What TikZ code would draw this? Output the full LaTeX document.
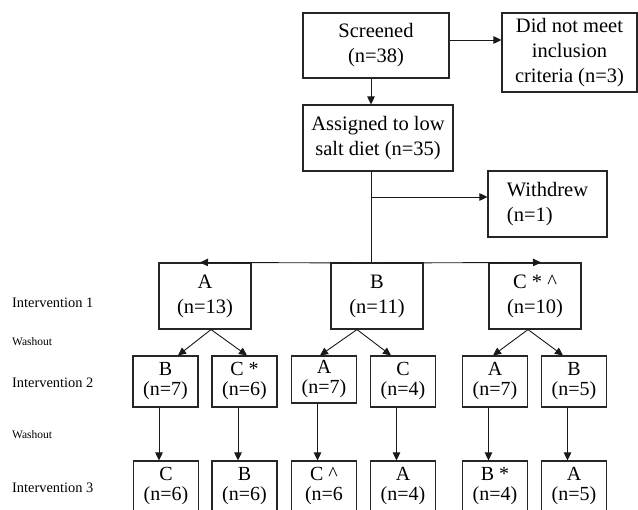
\documentclass[tikz,border=0pt]{standalone}
\usepackage{fontspec}
\setmainfont{Liberation Serif}
\usetikzlibrary{arrows.meta}
\begin{document}
\begin{tikzpicture}[x=1pt,y=-1pt,
  bx/.style={draw=black!85, line width=1.1pt, inner sep=0pt, align=center},
  big/.style={font=\fontsize{20.5}{25}\selectfont},
  sml/.style={font=\fontsize{20}{20}\selectfont, minimum width=65pt, minimum height=51pt},
  lab/.style={anchor=west, inner sep=0pt, font=\fontsize{14.4}{16}\selectfont},
  wlab/.style={anchor=west, inner sep=0pt, font=\fontsize{11.5}{13}\selectfont},
  arr/.style={draw=black!90, line width=0.9pt, -{Triangle[length=8pt,width=7.5pt]}},
  ln/.style={draw=black!90, line width=0.9pt}]
\useasboundingbox (0,0) rectangle (638,510);

% top part
\node[bx,big,minimum width=146pt,minimum height=65pt] (scr) at (376,45.5) {Screened\\(n=38)};
\node[bx,big,minimum width=135pt,minimum height=79pt] (dnm) at (569.5,52.5) {Did not meet\\inclusion\\criteria (n=3)};
\node[bx,big,minimum width=150pt,minimum height=66pt] (asg) at (378,138) {Assigned to low\\salt diet (n=35)};
\node[bx,big,align=left,minimum width=119pt,minimum height=66pt] (wd) at (547.5,204) {Withdrew\\(n=1)};

% intervention 1
\node[bx,big,minimum width=92pt,minimum height=66pt] (A1) at (205,296) {A\\(n=13)};
\node[bx,big,minimum width=92pt,minimum height=66pt] (B1) at (377,296) {B\\(n=11)};
\node[bx,big,minimum width=92pt,minimum height=66pt] (C1) at (535,296) {C * \^{}\\(n=10)};

% intervention 2
\node[bx,sml] (r2a) at (165.5,381.5) {B\\(n=7)};
\node[bx,sml] (r2b) at (244.5,381.5) {C *\\(n=6)};
\node[bx,sml,minimum height=47pt] (r2c) at (324,379.5) {A\\(n=7)};
\node[bx,sml] (r2d) at (403,381.5) {C\\(n=4)};
\node[bx,sml] (r2e) at (495,381.5) {A\\(n=7)};
\node[bx,sml] (r2f) at (574,381.5) {B\\(n=5)};

% intervention 3
\node[bx,sml] (r3a) at (166,486.5) {C\\(n=6)};
\node[bx,sml] (r3b) at (244.5,486.5) {B\\(n=6)};
\node[bx,sml] (r3c) at (324,486.5) {C \^{}\\(n=6};
\node[bx,sml] (r3d) at (403,486.5) {A\\(n=4)};
\node[bx,sml] (r3e) at (495,486.5) {B *\\(n=4)};
\node[bx,sml] (r3f) at (574,486.5) {A\\(n=5)};

% left labels
\node[lab] (l1) at (12,303) {Intervention 1};
\node[wlab] (w1) at (12,342) {Washout};
\node[lab] (l2) at (12,383) {Intervention 2};
\node[wlab] (w2) at (12,435) {Washout};
\node[lab] (l3) at (12,488) {Intervention 3};

% connectors top
\draw[arr] ([yshift=5.5pt]scr.east) -- ([yshift=5.5pt]scr.east -| dnm.west);
\draw[arr] ([xshift=-5pt]scr.south) -- ([xshift=-5pt]scr.south |- asg.north);
\coordinate (j) at (371,263);
\coordinate (wb) at (371,197);
\draw[ln] ([xshift=-7pt]asg.south) -- (j);
\draw[arr] (wb) -- (wb -| wd.west);
\draw[arr] (j) -- ([xshift=-5pt]A1.north);
\draw[arr] (j) -- ([xshift=6pt]C1.north);

% intervention 1 -> 2
\draw[arr] ([xshift=6pt]A1.south) -- ([xshift=12.5pt]r2a.north);
\draw[arr] ([xshift=6pt]A1.south) -- ([xshift=2.5pt]r2b.north);
\draw[arr] ([xshift=-20pt]B1.south) -- ([xshift=-4pt]r2c.north);
\draw[arr] ([xshift=-20pt]B1.south) -- ([xshift=-12pt]r2d.north);
\draw[arr] ([xshift=-7pt]C1.south) -- ([xshift=-2pt]r2e.north);
\draw[arr] ([xshift=-7pt]C1.south) -- ([xshift=-11pt]r2f.north);

% intervention 2 -> 3
\foreach \a/\b in {r2a/r3a, r2b/r3b, r2c/r3c, r2d/r3d, r2e/r3e, r2f/r3f}
  \draw[arr] ([xshift=-6.5pt]\a.south) -- ([xshift=-6.5pt]\a.south |- \b.north);
\end{tikzpicture}
\end{document}
